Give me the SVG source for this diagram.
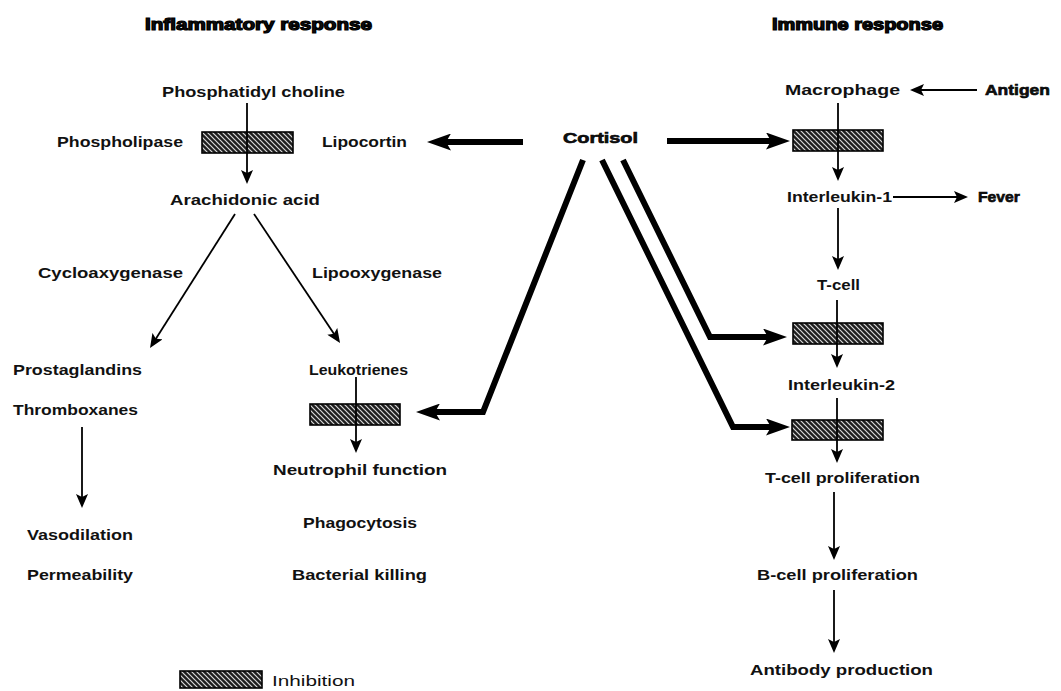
<svg xmlns="http://www.w3.org/2000/svg" width="1061" height="691" viewBox="0 0 1061 691">
<defs>
<pattern id="hatch" patternUnits="userSpaceOnUse" width="5" height="5">
<rect width="5" height="5" fill="#1e1e1e"/>
<path d="M-1,-1 L6,6 M-1,4 L1,6 M4,-1 L6,1" stroke="#d8d8d8" stroke-width="1.2"/>
</pattern>
<marker id="thin" markerUnits="userSpaceOnUse" viewBox="0 0 14 12" refX="6" refY="6" markerWidth="14" markerHeight="12" orient="auto">
<path d="M0,0 L14,6 L0,12 L3,6 z" fill="#000"/>
</marker>
<marker id="thick" markerUnits="userSpaceOnUse" viewBox="0 0 24 17" refX="10" refY="8.5" markerWidth="24" markerHeight="17" orient="auto">
<path d="M0,0 L24,8.5 L0,17 L5,8.5 z" fill="#000"/>
</marker>
</defs>
<style>
text{font-family:"Liberation Sans",Arial,sans-serif;font-size:15px;font-weight:bold;fill:#111;}
.title{font-size:16px;stroke:#000;stroke-width:1.2;}
.heavy{stroke:#000;stroke-width:0.6;}
.box{fill:url(#hatch);stroke:#000;stroke-width:1.6;}
.th{fill:none;stroke:#000;stroke-width:1.8;marker-end:url(#thin);}
.tk{fill:none;stroke:#000;stroke-width:6;stroke-linejoin:miter;marker-end:url(#thick);}
</style>
<rect width="1061" height="691" fill="#fff"/>

<g id="titles">
<text class="title" x="145" y="30" textLength="227" lengthAdjust="spacingAndGlyphs">Inflammatory response</text>
<text class="title" x="772" y="30" textLength="171" lengthAdjust="spacingAndGlyphs">Immune response</text>
</g>

<g id="phosphatidyl-choline"><text x="162" y="97" textLength="183" lengthAdjust="spacingAndGlyphs">Phosphatidyl choline</text></g>
<g id="phospholipase"><text x="57" y="147" textLength="126" lengthAdjust="spacingAndGlyphs">Phospholipase</text></g>
<g id="inhib-phospholipase"><rect class="box" x="202" y="132" width="91" height="21"/></g>
<g id="lipocortin"><text x="322" y="147" textLength="85" lengthAdjust="spacingAndGlyphs">Lipocortin</text></g>
<g id="arachidonic-acid"><text x="170" y="205" textLength="150" lengthAdjust="spacingAndGlyphs">Arachidonic acid</text></g>
<g id="cyclooxygenase"><text x="38" y="278" textLength="145" lengthAdjust="spacingAndGlyphs">Cycloaxygenase</text></g>
<g id="lipooxygenase"><text x="312" y="278" textLength="130" lengthAdjust="spacingAndGlyphs">Lipooxygenase</text></g>
<g id="prostaglandins"><text x="13" y="375" textLength="129" lengthAdjust="spacingAndGlyphs">Prostaglandins</text>
<text x="13" y="415" textLength="125" lengthAdjust="spacingAndGlyphs">Thromboxanes</text></g>
<g id="vasodilation"><text x="27" y="540" textLength="106" lengthAdjust="spacingAndGlyphs">Vasodilation</text>
<text x="27" y="580" textLength="106" lengthAdjust="spacingAndGlyphs">Permeability</text></g>
<g id="leukotrienes"><text x="309" y="375" textLength="99" lengthAdjust="spacingAndGlyphs">Leukotrienes</text></g>
<g id="inhib-leukotrienes"><rect class="box" x="310" y="404" width="90" height="21"/></g>
<g id="neutrophil"><text x="273" y="475" textLength="174" lengthAdjust="spacingAndGlyphs">Neutrophil function</text>
<text x="303" y="528" textLength="114" lengthAdjust="spacingAndGlyphs">Phagocytosis</text>
<text x="292" y="580" textLength="135" lengthAdjust="spacingAndGlyphs">Bacterial killing</text></g>

<g id="cortisol"><text class="heavy" x="563" y="143" textLength="75" lengthAdjust="spacingAndGlyphs">Cortisol</text></g>

<g id="macrophage"><text x="785" y="95" textLength="115" lengthAdjust="spacingAndGlyphs">Macrophage</text></g>
<g id="antigen"><text class="heavy" x="985" y="95" textLength="65" lengthAdjust="spacingAndGlyphs">Antigen</text></g>
<g id="inhib-macrophage"><rect class="box" x="793" y="130" width="90" height="21"/></g>
<g id="interleukin-1"><text x="787" y="202" textLength="105" lengthAdjust="spacingAndGlyphs">Interleukin-1</text></g>
<g id="fever"><text class="heavy" x="978" y="202" textLength="42" lengthAdjust="spacingAndGlyphs">Fever</text></g>
<g id="t-cell"><text x="817" y="290" textLength="43" lengthAdjust="spacingAndGlyphs">T-cell</text></g>
<g id="inhib-tcell"><rect class="box" x="793" y="323" width="90" height="21"/></g>
<g id="interleukin-2"><text x="788" y="390" textLength="107" lengthAdjust="spacingAndGlyphs">Interleukin-2</text></g>
<g id="inhib-il2"><rect class="box" x="792" y="420" width="91" height="20"/></g>
<g id="t-cell-proliferation"><text x="765" y="483" textLength="155" lengthAdjust="spacingAndGlyphs">T-cell proliferation</text></g>
<g id="b-cell-proliferation"><text x="757" y="580" textLength="161" lengthAdjust="spacingAndGlyphs">B-cell proliferation</text></g>
<g id="antibody-production"><text x="750" y="675" textLength="183" lengthAdjust="spacingAndGlyphs">Antibody production</text></g>

<g id="legend">
<rect class="box" x="180" y="671" width="82" height="17"/>
<text x="272" y="686" textLength="83" lengthAdjust="spacingAndGlyphs" style="font-weight:normal">Inhibition</text>
</g>

<g id="connectors">
<line class="th" x1="247" y1="103" x2="247" y2="176"/>
<line class="th" x1="235" y1="214" x2="154.3" y2="341.2"/>
<line class="th" x1="254" y1="214" x2="335.6" y2="336.3"/>
<line class="th" x1="82" y1="427" x2="82" y2="500"/>
<line class="th" x1="356" y1="377" x2="356" y2="445"/>
<line class="th" x1="977" y1="90" x2="918" y2="90"/>
<line class="th" x1="838" y1="103" x2="838" y2="173"/>
<line class="th" x1="893" y1="197" x2="960" y2="197"/>
<line class="th" x1="838" y1="208" x2="838" y2="262"/>
<line class="th" x1="837" y1="300" x2="837" y2="360"/>
<line class="th" x1="837" y1="398" x2="837" y2="455"/>
<line class="th" x1="834" y1="492" x2="834" y2="552"/>
<line class="th" x1="834" y1="590" x2="834" y2="645"/>
<line class="tk" x1="523" y1="142" x2="441" y2="142"/>
<line class="tk" x1="667" y1="141" x2="776" y2="141"/>
<polyline class="tk" points="583,160 483,412 430,412"/>
<polyline class="tk" points="623,160 710,337 773,337"/>
<polyline class="tk" points="602,160 733,427 776,427"/>
</g>
</svg>
